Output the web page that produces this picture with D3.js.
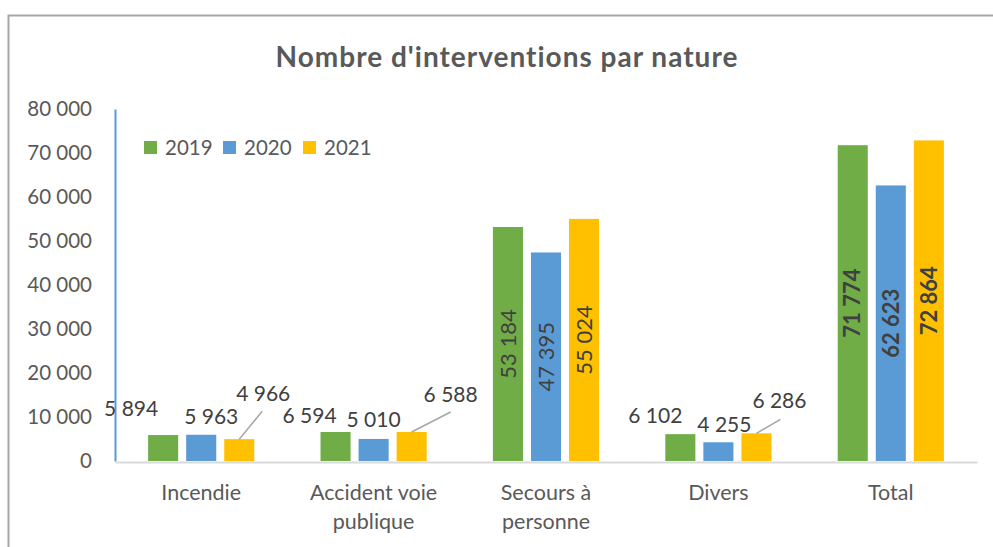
<!DOCTYPE html>
<html>
<head>
<meta charset="utf-8">
<script src="https://cdn.jsdelivr.net/npm/d3@7"></script>
<style>
  body { margin: 0; background: #fff; }
  svg { display: block; font-family: Lato, "Open Sans", sans-serif; }
</style>
</head>
<body>
<div id="viz"></div>
<script>
var categories = [["Incendie"], ["Accident voie", "publique"], ["Secours à", "personne"], ["Divers"], ["Total"]];
var years = ["2019", "2020", "2021"];
var v2019 = [5894, 6594, 53184, 6102, 71774];
var v2020 = [5963, 5010, 47395, 4255, 62623];
var v2021 = [4966, 6588, 55024, 6286, 72864];
var yTicks = [0, 10000, 20000, 30000, 40000, 50000, 60000, 70000, 80000];

var colors = { "2019": "#70ad47", "2020": "#5b9bd5", "2021": "#ffc000" };

// hand-placed labels on the small bars (offset from bar top centre), like the excel original
var labelPos = {
  "0-0": { dx: -32, dy: -19 }, "0-1": { dx: 10, dy: -11 }, "0-2": { dx: 24, dy: -38, lx: 23, ly: -28 },
  "1-0": { dx: -26, dy: -9 }, "1-1": { dx: 0, dy: -12 }, "1-2": { dx: 39, dy: -30, lx: 39, ly: -20 },
  "3-0": { dx: -25, dy: -11 }, "3-1": { dx: 6, dy: -10 }, "3-2": { dx: 23, dy: -25, lx: 24, ly: -14 }
};

var width = 993, height = 547;
var margin = { top: 109, right: 16, bottom: 86, left: 115 };

var fr = d3.formatLocale({ decimal: ",", thousands: "\u00a0", grouping: [3], currency: ["", " €"] });
var fmt = fr.format(",d");

var rows = [];
categories.forEach(function(c, i) {
  rows.push({ cat: i, values: [v2019[i], v2020[i], v2021[i]] });
});

var svg = d3.select('#viz').append('svg')
  .attr('width', width)
  .attr('height', height);

// chart frame
svg.append('rect')
  .attr('x', 8.5).attr('y', 15.5)
  .attr('width', 1100).attr('height', 700)
  .attr('fill', 'none')
  .attr('stroke', '#a6a6a6')
  .attr('stroke-width', 2);

var x = d3.scaleBand()
  .domain(d3.range(categories.length))
  .range([margin.left, width - margin.right]);

var xSub = d3.scaleBand()
  .domain(years)
  .range([0, x.bandwidth()])
  .paddingInner(0.21)
  .paddingOuter(0.87);

var y = d3.scaleLinear()
  .domain([0, 80000])
  .range([height - margin.bottom, margin.top]);

svg.append('text')
  .attr('x', 507).attr('y', 67)
  .attr('text-anchor', 'middle')
  .attr('font-size', 28)
  .attr('letter-spacing', 1)
  .attr('font-weight', 'bold')
  .attr('fill', '#595959')
  .text("Nombre d'interventions par nature");

// y axis
var yAxis = svg.append('g')
  .attr('transform', 'translate(' + margin.left + ',0)')
  .call(d3.axisLeft(y).tickValues(yTicks).tickSize(0).tickPadding(23).tickFormat(fmt));
yAxis.select('.domain').attr('stroke', '#5b9bd5').attr('stroke-width', 2);
yAxis.selectAll('text')
  .attr('font-family', 'Lato, sans-serif')
  .attr('font-size', 20.5)
  .attr('fill', '#595959');

// x axis
var xAxis = svg.append('g')
  .attr('transform', 'translate(0,' + (y(0) + 1) + ')')
  .call(d3.axisBottom(x).tickSize(0).tickFormat(''));
xAxis.select('.domain').attr('stroke', '#d9d9d9').attr('stroke-width', 2);

xAxis.selectAll('.tick').each(function(d) {
  var t = d3.select(this).select('text')
    .attr('font-family', 'Lato, sans-serif')
    .attr('font-size', 21.5)
    .attr('fill', '#595959')
    .attr('y', 0).attr('dy', null);
  categories[d].forEach(function(line, k) {
    t.append('tspan').attr('x', 0).attr('y', 38 + k * 29).text(line);
  });
});

// bars
var groups = svg.selectAll('g.cat').data(rows)
  .enter().append('g')
  .attr('class', 'cat')
  .attr('transform', function(d) { return 'translate(' + x(d.cat) + ',0)'; });

var bars = groups.selectAll('g.bar')
  .data(function(d) {
    return d.values.map(function(v, j) { return { cat: d.cat, year: years[j], j: j, value: v }; });
  })
  .enter().append('g').attr('class', 'bar');

bars.append('rect')
  .attr('x', function(d) { return xSub(d.year); })
  .attr('y', function(d) { return y(d.value); })
  .attr('width', xSub.bandwidth())
  .attr('height', function(d) { return y(0) - y(d.value); })
  .attr('fill', function(d) { return colors[d.year]; });

// labels
bars.each(function(d) {
  var g = d3.select(this);
  var cx = xSub(d.year) + xSub.bandwidth() / 2;
  var top = y(d.value);
  var p = labelPos[d.cat + '-' + d.j];
  if (p) {
    if (p.lx !== undefined) {
      g.append('line')
        .attr('x1', cx).attr('y1', top)
        .attr('x2', cx + p.lx).attr('y2', top + p.ly)
        .attr('stroke', '#a6a6a6').attr('stroke-width', 1.5);
    }
    g.append('text')
      .attr('x', cx + p.dx).attr('y', top + p.dy)
      .attr('text-anchor', 'middle')
      .attr('font-size', 21)
      .attr('fill', '#404040')
      .text(fmt(d.value));
  } else {
    var my = (top + y(0)) / 2;
    g.append('text')
      .attr('transform', 'translate(' + cx + ',' + my + ') rotate(-90)')
      .attr('text-anchor', 'middle')
      .attr('dy', '0.35em')
      .attr('font-size', 22)
      .attr('font-weight', d.cat === 4 ? 'bold' : 'normal')
      .attr('fill', '#404040')
      .text(fmt(d.value));
  }
});

// legend
var legend = svg.append('g').attr('transform', 'translate(144,141)');
var lx = [0, 79, 159];
years.forEach(function(yr, i) {
  var item = legend.append('g').attr('transform', 'translate(' + lx[i] + ',0)');
  item.append('rect').attr('width', 13).attr('height', 13).attr('fill', colors[yr]);
  item.append('text')
    .attr('x', 21).attr('y', 13.5)
    .attr('font-size', 20.5)
    .attr('fill', '#595959')
    .text(yr);
});
</script>
</body>
</html>
